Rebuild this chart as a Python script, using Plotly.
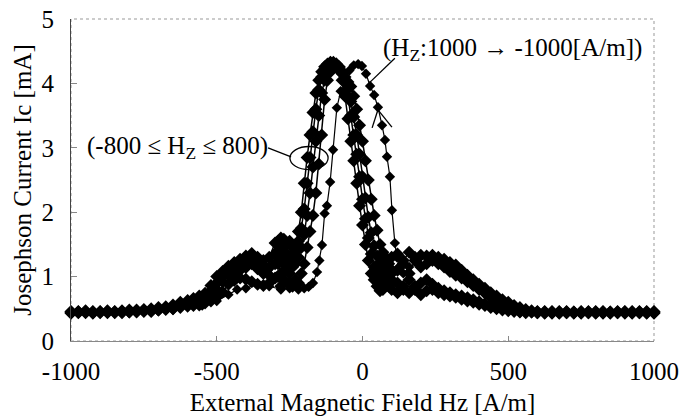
import plotly.graph_objects as go

# ---------------- data ----------------
# shared Hz grid of the -800..800 sweeps [A/m]
X_MAIN = [-1000, -975, -950, -925, -900, -875, -850, -825, -800, -775, -750, -725, -700, -675, -650, -625, -600,
          -580, -560, -540, -520, -500, -480, -460, -440, -420, -400, -380, -360, -340, -320, -300,
          -290, -280, -270, -260, -250, -240, -230, -220, -210, -200, -190, -180, -170, -160, -150, -140, -130,
          -120, -110, -100, -90, -80, -70, -60, -50, -40, -30, -20, -10, 0, 10, 20, 30, 40, 50, 60, 70, 80, 90, 100,
          120, 140, 160, 180, 200, 220, 240, 260, 280, 300, 320, 340, 360, 380, 400, 420, 440, 460, 480, 500,
          520, 540, 560, 580, 600,
          625, 650, 675, 700, 725, 750, 775, 800, 825, 850, 875, 900, 925, 950, 975, 1000]

SWEEP_A = [0.46, 0.45, 0.47, 0.45, 0.46, 0.47, 0.45, 0.47, 0.48, 0.47, 0.49, 0.50, 0.52, 0.53, 0.56, 0.60, 0.63,
           0.66, 0.70, 0.74, 0.86, 1.00, 1.08, 1.16, 1.22, 1.27, 1.32, 1.36, 1.30, 1.25, 1.30, 1.52,
           1.55, 1.60, 1.58, 1.50, 1.55, 1.45, 1.50, 1.70, 2.00, 2.45, 2.85, 3.20, 3.55, 3.85, 4.05, 4.18, 4.26,
           4.30, 4.33, 4.33, 4.30, 4.25, 4.18, 4.10, 4.02, 3.95, 3.80, 3.60, 3.35, 3.10, 2.80, 2.50, 2.20, 1.95,
           1.72, 1.50, 1.38, 1.30, 1.20, 1.30,
           1.35, 1.25, 1.38, 1.30, 1.33, 1.32, 1.33, 1.30, 1.27, 1.22, 1.18, 1.10, 1.02, 0.95, 0.88, 0.82, 0.75,
           0.70, 0.64, 0.60, 0.55, 0.52, 0.49, 0.47, 0.46,
           0.46, 0.45, 0.46, 0.44, 0.45, 0.46, 0.44, 0.45, 0.46, 0.44, 0.45, 0.46, 0.44, 0.45, 0.46, 0.45]

SWEEP_B = [0.44, 0.46, 0.44, 0.46, 0.45, 0.44, 0.46, 0.45, 0.46, 0.48, 0.47, 0.48, 0.49, 0.51, 0.53, 0.56, 0.58,
           0.60, 0.64, 0.70, 0.78, 0.90, 1.02, 1.10, 1.14, 1.20, 1.24, 1.28, 1.22, 1.18, 1.14, 1.35,
           1.40, 1.30, 1.45, 1.35, 1.25, 1.30, 1.40, 1.55, 1.75, 2.05, 2.45, 2.85, 3.25, 3.60, 3.90, 4.10, 4.22,
           4.29, 4.32, 4.30, 4.28, 4.22, 4.15, 4.05, 3.92, 3.72, 3.48, 3.20, 2.90, 2.55, 2.22, 1.92, 1.68, 1.48,
           1.32, 1.22, 1.12, 1.25, 1.15, 1.05,
           1.10, 1.20, 1.05, 1.25, 1.15, 1.20, 1.25, 1.20, 1.15, 1.08, 1.02, 0.98, 0.92, 0.86, 0.80, 0.74, 0.68,
           0.63, 0.58, 0.55, 0.51, 0.49, 0.47, 0.46, 0.45,
           0.44, 0.46, 0.44, 0.45, 0.44, 0.45, 0.46, 0.44, 0.45, 0.45, 0.44, 0.45, 0.46, 0.44, 0.44, 0.46]

SWEEP_C = [0.45, 0.44, 0.46, 0.44, 0.45, 0.46, 0.44, 0.46, 0.45, 0.46, 0.46, 0.47, 0.49, 0.50, 0.52, 0.54, 0.56,
           0.58, 0.60, 0.64, 0.70, 0.80, 0.92, 1.02, 1.06, 1.10, 1.14, 1.20, 1.12, 1.05, 1.02, 1.20,
           1.20, 1.05, 1.25, 1.15, 1.05, 1.15, 1.20, 1.30, 1.45, 1.65, 1.95, 2.30, 2.70, 3.10, 3.50, 3.85, 4.05,
           4.18, 4.26, 4.30, 4.30, 4.26, 4.18, 4.02, 3.80, 3.50, 3.20, 2.90, 2.55, 2.20, 1.90, 1.60, 1.35, 1.15,
           1.05, 0.95, 0.90, 1.00, 1.10, 0.95,
           0.90, 0.80, 0.95, 0.85, 0.90, 0.95, 0.88, 0.82, 0.78, 0.75, 0.72, 0.70, 0.67, 0.64, 0.61, 0.58, 0.55,
           0.52, 0.50, 0.48, 0.47, 0.46, 0.45, 0.45, 0.44,
           0.45, 0.43, 0.45, 0.46, 0.43, 0.44, 0.45, 0.46, 0.43, 0.45, 0.46, 0.43, 0.45, 0.46, 0.45, 0.43]

SWEEP_D = [0.43, 0.45, 0.45, 0.43, 0.44, 0.45, 0.45, 0.44, 0.45, 0.45, 0.47, 0.46, 0.48, 0.49, 0.50, 0.52, 0.55,
           0.55, 0.56, 0.59, 0.62, 0.68, 0.76, 0.88, 0.94, 0.98, 0.96, 0.92, 0.88, 0.86, 0.90, 0.98,
           1.00, 0.85, 0.95, 1.10, 0.90, 0.85, 0.95, 0.90, 1.05, 1.20, 1.45, 1.70, 1.95, 2.30, 2.75, 3.20, 3.75,
           4.05, 4.18, 4.25, 4.26, 4.20, 4.05, 3.80, 3.45, 3.10, 2.80, 2.45, 2.10, 1.80, 1.50, 1.25, 1.05, 0.95,
           0.85, 0.78, 0.80, 0.90, 0.85, 0.80,
           0.75, 0.85, 0.75, 0.80, 0.72, 0.78, 0.80, 0.75, 0.72, 0.70, 0.68, 0.65, 0.62, 0.60, 0.57, 0.55, 0.52,
           0.50, 0.48, 0.47, 0.46, 0.45, 0.44, 0.45, 0.44,
           0.43, 0.44, 0.43, 0.44, 0.45, 0.43, 0.44, 0.43, 0.44, 0.43, 0.44, 0.45, 0.43, 0.44, 0.43, 0.44]

# separate sweep Hz: 1000 -> -1000 [A/m]
X_DOWN = [1000, 950, 900, 850, 800, 750, 700, 650, 600, 560, 520, 480, 440, 400, 360, 320, 280, 250, 220, 190,
          160, 140, 125, 118, 111, 101, 94, 84, 77, 67, 53, 40, 26, 12, -2, -15, -30, -45, -60, -75, -88, -101,
          -111, -122, -130, -139, -148, -156, -170, -185, -200, -220, -250, -280, -320, -360, -400, -430, -460,
          -500, -550, -600, -650, -700, -800, -900, -1000]
Y_DOWN = [0.45, 0.44, 0.46, 0.45, 0.45, 0.44, 0.46, 0.45, 0.46, 0.48, 0.53, 0.62, 0.72, 0.85, 0.98, 1.10, 1.22,
          1.28, 1.30, 1.22, 1.15, 1.05, 1.15, 1.30, 1.52, 2.03, 2.55, 2.86, 3.12, 3.35, 3.63, 3.82, 3.96, 4.15,
          4.27, 4.30, 4.28, 4.20, 4.05, 3.88, 3.62, 2.97, 2.47, 2.10, 1.98, 1.49, 1.25, 1.07, 0.90, 0.84, 0.82,
          0.80, 0.82, 0.80, 0.85, 0.88, 0.82, 0.80, 0.72, 0.62, 0.55, 0.52, 0.48, 0.46, 0.45, 0.46, 0.44]

X_TICKS = [-1000, -500, 0, 500, 1000]
X_TICK_TEXT = ["-1000", "-500", "0", "500", "1000"]
Y_TICKS = [0, 1, 2, 3, 4, 5]

FONT = "Liberation Serif, Times New Roman, serif"

fig = go.Figure()
for ys in (SWEEP_A, SWEEP_B, SWEEP_C, SWEEP_D):
    fig.add_trace(go.Scatter(
        x=X_MAIN, y=ys, mode="lines+markers", cliponaxis=False, showlegend=False,
        line=dict(color="black", width=1.5),
        marker=dict(symbol="diamond", size=10, color="black"),
    ))
fig.add_trace(go.Scatter(
    x=X_DOWN, y=Y_DOWN, mode="lines+markers", cliponaxis=False, showlegend=False,
    line=dict(color="black", width=1.2),
    marker=dict(symbol="diamond", size=8, color="black"),
))

fig.update_layout(
    width=680, height=416,
    margin=dict(l=71, r=26, t=19, b=75),
    paper_bgcolor="white", plot_bgcolor="white",
    font=dict(family=FONT, size=25, color="black"),
    xaxis=dict(
        range=[-1000, 1000], tickvals=X_TICKS, ticktext=X_TICK_TEXT, automargin=False,
        showgrid=False, zeroline=False, showline=True, linecolor="#888", linewidth=1,
        ticks="inside", ticklen=5, tickcolor="#888", ticklabelstandoff=8,
        tickfont=dict(family=FONT, size=25, color="black"),
        title=dict(text="External Magnetic Field Hz [A/m]", font=dict(family=FONT, size=25), standoff=12),
    ),
    yaxis=dict(
        range=[0, 5], tickvals=Y_TICKS, automargin=False,
        showgrid=False, zeroline=False, showline=True, linecolor="#444", linewidth=1,
        ticks="inside", ticklen=6, tickcolor="#888", ticklabelstandoff=11,
        tickfont=dict(family=FONT, size=25, color="black"),
        title=dict(text="Josephson Current Ic [mA]", font=dict(family=FONT, size=25), standoff=2),
    ),
    shapes=[
        dict(type="rect", xref="paper", yref="paper", x0=0, x1=1, y0=0, y1=1,
             line=dict(color="#999", width=1, dash="dot"), layer="below"),
        dict(type="circle", xref="x", yref="y", x0=-249, x1=-118, y0=2.66, y1=3.02,
             line=dict(color="black", width=1.3)),
        dict(type="line", xref="x", yref="y", x0=-324, y0=3.0, x1=-245, y1=2.86,
             line=dict(color="black", width=1.3)),
        dict(type="line", xref="x", yref="y", x0=111, y0=4.39, x1=26, y1=4.02,
             line=dict(color="black", width=1.3)),
        dict(type="line", xref="x", yref="y", x0=53, y0=3.59, x1=101, y1=3.32,
             line=dict(color="black", width=1.3)),
        dict(type="line", xref="x", yref="y", x0=53, y0=3.59, x1=33, y1=3.31,
             line=dict(color="black", width=1.3)),
    ],
    annotations=[
        dict(text="(-800 ≤ H<sub>Z</sub> ≤ 800)", xref="x", yref="y", x=-636, y=3.01,
             xanchor="center", yanchor="middle", showarrow=False,
             font=dict(family=FONT, size=25, color="black")),
        dict(text="(H<sub>Z</sub>:1000 → -1000[A/m])", xref="x", yref="y", x=513, y=4.52,
             xanchor="center", yanchor="middle", showarrow=False,
             font=dict(family=FONT, size=25, color="black")),
    ],
)

fig.write_html("out.html")
